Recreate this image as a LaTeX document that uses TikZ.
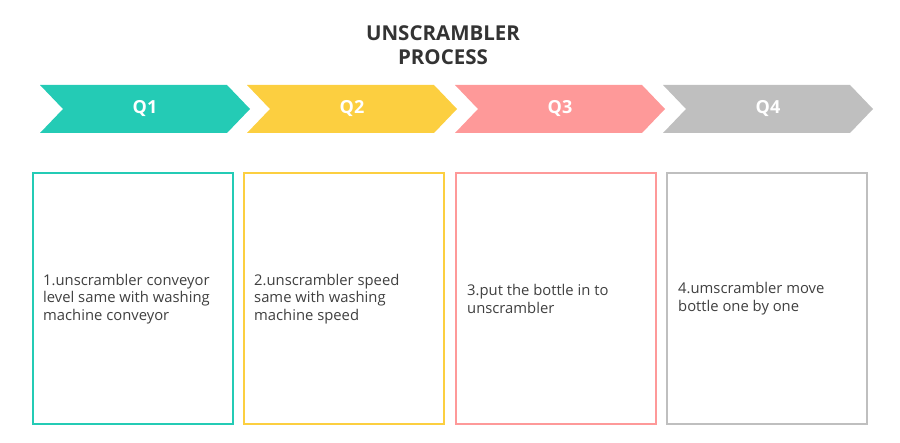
\documentclass[tikz,border=0pt]{standalone}
\usepackage{fontspec}
\setmainfont{Open Sans}
\definecolor{c1}{HTML}{24CBB5}
\definecolor{c2}{HTML}{FCCF40}
\definecolor{c3}{HTML}{FE9999}
\definecolor{c4}{HTML}{BFBFBF}
\definecolor{txt}{HTML}{404040}
\definecolor{ttl}{HTML}{333333}
\tikzset{
  chev/.style={fill=#1,draw=none},
  qlab/.style={text=white,font=\fontsize{18}{20}\selectfont\bfseries,inner sep=0},
  stepbox/.style={draw=#1,line width=1.6pt,fill=white},
  desc/.style={anchor=west,align=left,text=txt,inner sep=0,font=\fontsize{14.8}{17.8}\selectfont}
}
\begin{document}
\begin{tikzpicture}[x=1pt,y=-1pt]
    \useasboundingbox(0,0)rectangle(900,443);
    \newcommand{\CW}{210}
    \newcommand{\CD}{23}
    \node[text=ttl,align=center,inner sep=0,font=\fontsize{20.5}{24}\selectfont\bfseries](title)at(443,45){UNSCRAMBLER\\PROCESS};
    % chevrons
    \fill[chev=c1](40,85)--++(\CW-\CD,0)--++(\CD,24)--++(-\CD,24)--++(\CD-\CW,0)--++(\CD,-24)--cycle;
    \fill[chev=c2](247,85)--++(\CW-\CD,0)--++(\CD,24)--++(-\CD,24)--++(\CD-\CW,0)--++(\CD,-24)--cycle;
    \fill[chev=c3](455,85)--++(\CW-\CD,0)--++(\CD,24)--++(-\CD,24)--++(\CD-\CW,0)--++(\CD,-24)--cycle;
    \fill[chev=c4](663,85)--++(\CW-\CD,0)--++(\CD,24)--++(-\CD,24)--++(\CD-\CW,0)--++(\CD,-24)--cycle;
    \node[qlab](q1)at(145,109){Q1};
    \node[qlab](q2)at(352,109){Q2};
    \node[qlab](q3)at(560,109){Q3};
    \node[qlab](q4)at(768,109){Q4};
    % boxes
    \draw[stepbox=c1](33,173)rectangle(233,424);
    \draw[stepbox=c2](244,173)rectangle(444,424);
    \draw[stepbox=c3](456,173)rectangle(656,424);
    \draw[stepbox=c4](667,173)rectangle(867,424);
    \node[desc](d1)at(43,299){1.unscrambler conveyor\\level same with washing\\machine conveyor};
    \node[desc](d2)at(254,299){2.unscrambler speed\\same with washing\\machine speed};
    \node[desc](d3)at(467,299){3.put the bottle in to\\unscrambler};
    \node[desc](d4)at(678,299){4.umscrambler move\\bottle one by one};
\end{tikzpicture}
\end{document}
